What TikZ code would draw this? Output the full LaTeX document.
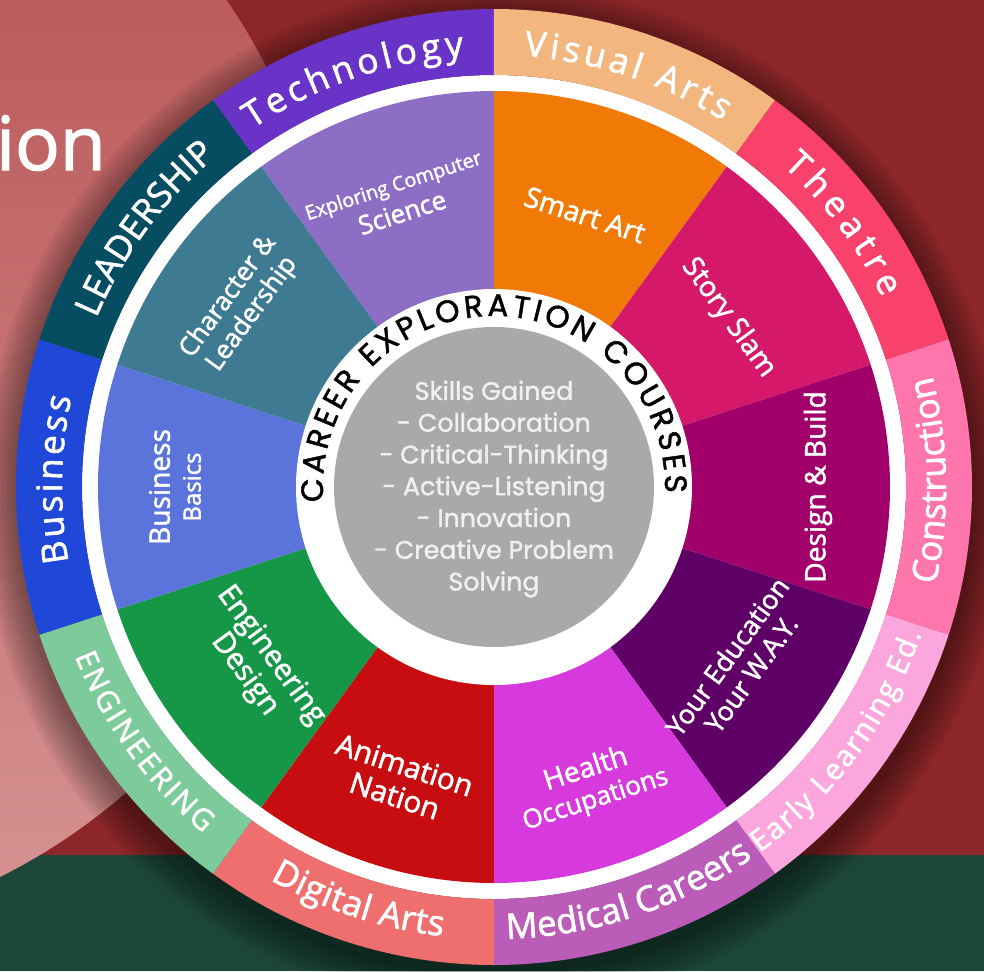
\documentclass[tikz,border=0pt]{standalone}
\usepackage{fontspec}
\setmainfont{Open Sans}[FakeBold=1.8]
\newfontfamily\geofont{Poppins}[FakeBold=1.5]
\usetikzlibrary{decorations.text}

\definecolor{bgred}{HTML}{8C2629}
\definecolor{bggreen}{HTML}{1C4638}
\definecolor{blobtop}{HTML}{B54C4D}
\definecolor{blobmid}{HTML}{AE4B4C}
\definecolor{blobbot}{HTML}{D69494}
\definecolor{hubgray}{HTML}{A9A9A9}
\definecolor{skilltext}{HTML}{F0F0F0}
% outer ring
\definecolor{tech}{HTML}{6A33C7}
\definecolor{visual}{HTML}{F3B67F}
\definecolor{theatre}{HTML}{F8416B}
\definecolor{constr}{HTML}{FE76AC}
\definecolor{early}{HTML}{FCA6DE}
\definecolor{medical}{HTML}{BB5CB9}
\definecolor{digital}{HTML}{EF6F6E}
\definecolor{engin}{HTML}{7DCB9B}
\definecolor{busin}{HTML}{1F48D9}
\definecolor{leader}{HTML}{074D61}
% inner sectors
\definecolor{ecs}{HTML}{8E6DC4}
\definecolor{smart}{HTML}{F07A05}
\definecolor{story}{HTML}{D6186A}
\definecolor{design}{HTML}{A1006B}
\definecolor{youredu}{HTML}{5F0066}
\definecolor{health}{HTML}{D63ADC}
\definecolor{anim}{HTML}{C80D10}
\definecolor{engdes}{HTML}{169747}
\definecolor{basics}{HTML}{5B74DB}
\definecolor{charac}{HTML}{3E7B93}

\tikzset{
  course/.style={text=white, align=center, inner sep=0pt, font=\fontsize{20}{22}\selectfont},
  skills/.style={text=skilltext, align=center, inner sep=0pt, font=\geofont\fontsize{18}{22.6}\selectfont},
}

\newcommand{\fieldlabel}[5][25]{%
  \path[decorate, decoration={text along path, text align={fit to path}, text color=white,
    text={|\fontsize{#1}{#1}\selectfont|#5}}] (#2:#4) arc[start angle=#2, end angle=#3, radius=#4];}

\begin{document}
\begin{tikzpicture}[x=0.25mm, y=0.25mm]
\useasboundingbox (-494,-484) rectangle (490,487);

% background
\fill[bgred] (-494,-484) rectangle (490,487);
\fill[bggreen] (-494,-484) rectangle (490,-368);
\begin{scope}
\clip (-494,-484) rectangle (490,487);
\shade[top color=blobtop, middle color=blobmid, bottom color=blobbot] (-762,147) circle (600);
\end{scope}
\node[anchor=base east, inner sep=0pt, text=white, font=\fontsize{53}{53}\selectfont] (title) at (-388,317) {ion};

% shadow
\foreach \r in {480,484,...,512}
  \fill[black, opacity=0.05] (0,-10) circle (\r);

% wheel
\fill[white] (0,0) circle (412);
\def\sectors{90/ecs/tech, 54/smart/visual, 18/story/theatre, -18/design/constr,
  -54/youredu/early, -90/health/medical, -126/anim/digital, -162/engdes/engin,
  162/basics/busin, 126/charac/leader}
\foreach \a / \cin / \cout in \sectors {
  \fill[\cout] (\a:478) arc[start angle=\a, delta angle=36, radius=478]
    -- ({\a+36}:412) arc[start angle={\a+36}, delta angle=-36, radius=412] -- cycle;
  \fill[\cin] (0,0) -- (\a:396) arc[start angle=\a, delta angle=36, radius=396] -- cycle;
}
\fill[white] (0,0) circle (198);
\fill[hubgray] (0,0) circle (160);

% outer ring labels
\fieldlabel{124}{94}{432}{Technology}
\fieldlabel{86}{58}{432}{Visual Arts}
\fieldlabel{48}{26}{432}{Theatre}
\fieldlabel{157}{130}{432}{LEADERSHIP}
\fieldlabel{190}{168}{432}{Business}
\fieldlabel{-12.5}{14}{452}{Construction}
\fieldlabel[21]{-54}{-19}{452}{Early Learning Ed.}
\fieldlabel{-88.4}{-55.7}{452}{Medical Careers}
\fieldlabel{-119.7}{-96.5}{452}{Digital Arts}
\fieldlabel[21]{-158}{-130}{452}{ENGINEERING}

% courses
\node[course, rotate=18] (ecsl) at (108.5:303) {{\fontsize{14}{17}\selectfont Exploring Computer}\\ {\fontsize{18.5}{20}\selectfont Science}};
\node[course, rotate=-18] (smartl) at (71.5:287) {Smart Art};
\node[course, rotate=-54] (storyl) at (35.8:289) {Story Slam};
\node[course, rotate=90] (designl) at (0:324) {Design \& Build};
\node[course, rotate=54, font=\fontsize{19}{21}\selectfont] (youredul) at (-36:303) {Your Education\\ Your W.A.Y.};
\node[course, rotate=18] (healthl) at (-72:313) {Health\\ {\fontsize{18.5}{20}\selectfont Occupations}};
\node[course, rotate=-18, font=\fontsize{21}{23}\selectfont] (animl) at (-107.8:308) {Animation\\ Nation};
\node[course, rotate=-54, font=\fontsize{21}{23}\selectfont] (engdesl) at (-143:296) {Engineering\\ Design};
\node[course, rotate=90] (basicsl) at (180:319) {Business\\ {\fontsize{17}{19}\selectfont Basics}};
\node[course, rotate=54, font=\fontsize{18.5}{21}\selectfont] (characl) at (144.4:312) {Character \&\\ Leadership};

% hub
\path[decorate, decoration={text along path, text align={fit to path}, text color=black,
  text={|\geofont\fontsize{22}{22}\selectfont|CAREER EXPLORATION COURSES}}]
  (185:171) arc[start angle=185, end angle=-2, radius=171];
\node[skills] (skills) at (0,-2) {Skills Gained\\ - Collaboration\\ - Critical-Thinking\\ - Active-Listening\\ - Innovation\\ - Creative Problem\\ Solving};

\end{tikzpicture}
\end{document}
